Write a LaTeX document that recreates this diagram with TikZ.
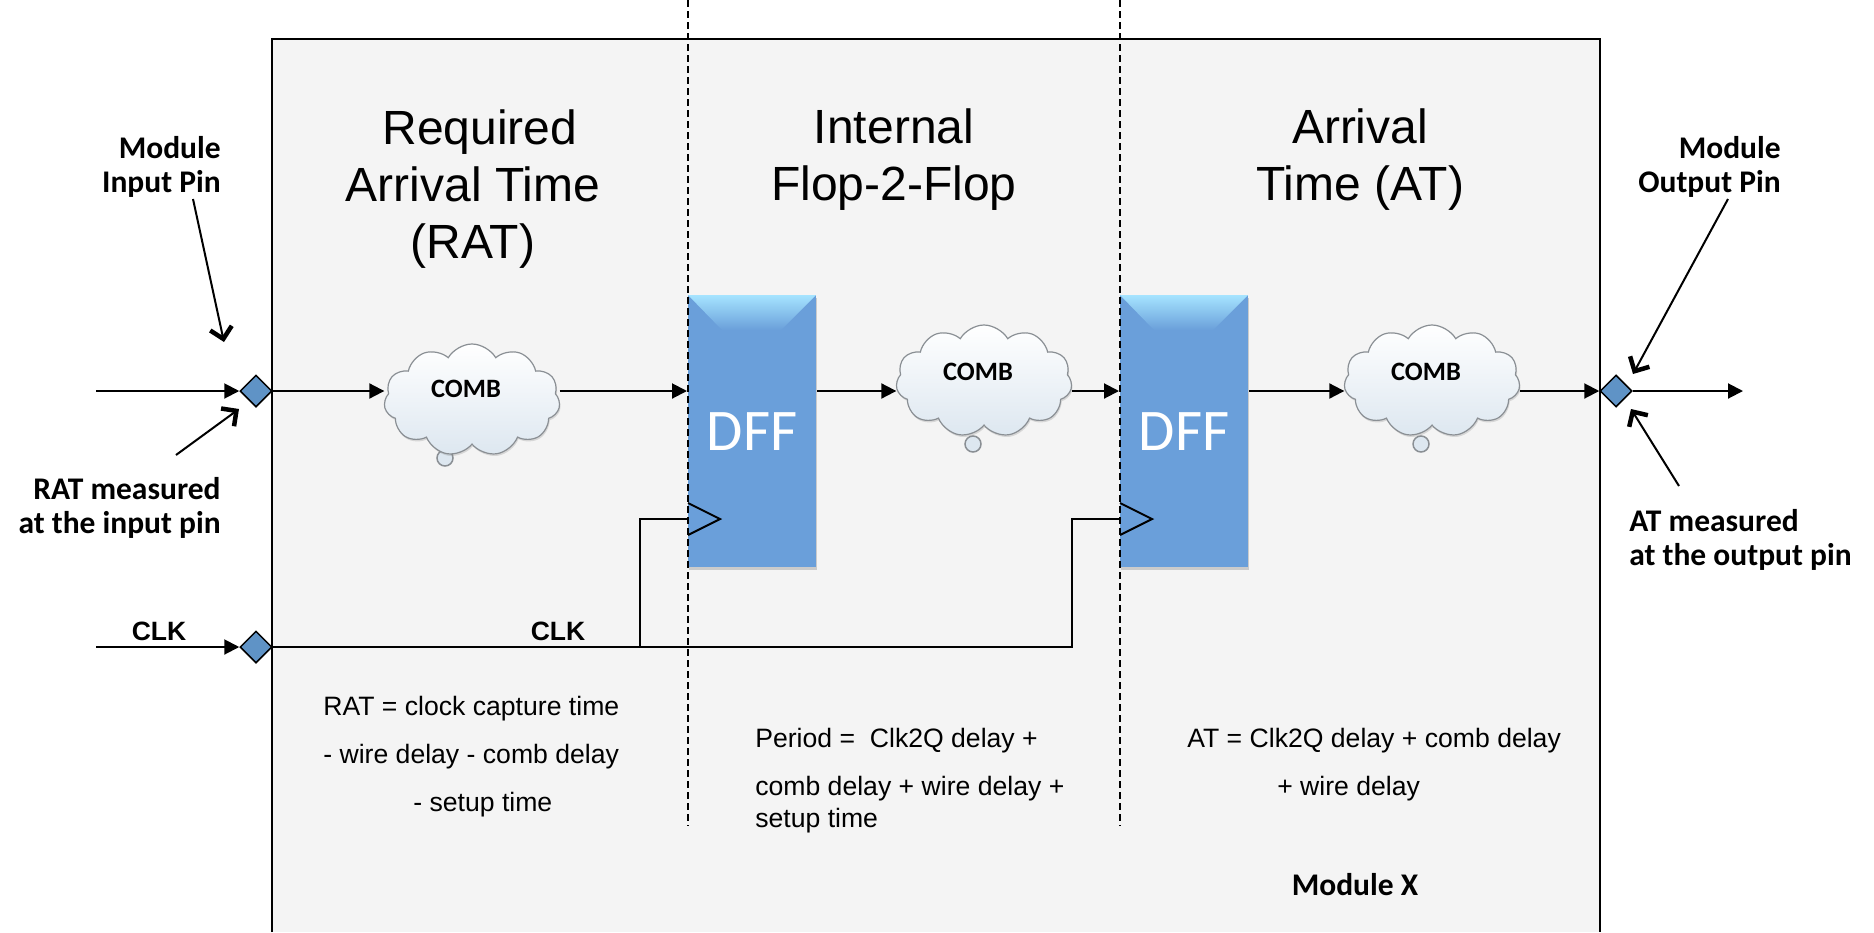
\documentclass[tikz,border=0pt]{standalone}
\usepackage{fontspec}
\setmainfont{Liberation Sans}
\newfontfamily\calibfont{Carlito}
\usepackage{tikz}
\usetikzlibrary{arrows.meta}
\usetikzlibrary{shapes.geometric,shapes.symbols}
\usetikzlibrary{shadows}
\definecolor{module gray}{HTML}{F4F4F4}
\definecolor{dff blue}{HTML}{6A9FDA}
\definecolor{pin blue}{HTML}{5F93C6}
\definecolor{cloud edge}{HTML}{8A8F94}
\definecolor{cloud tint}{HTML}{DDE7F0}
\tikzstyle{pin}=[diamond,draw,fill=pin blue,line width=1.5pt,minimum size=32pt,inner sep=0pt]
\tikzstyle{dff}=[rectangle,fill=dff blue,minimum width=128pt,minimum height=272pt,inner sep=0pt,text=white,font=\calibfont\fontsize{59}{64}\selectfont,drop shadow={shadow xshift=1pt,shadow yshift=-3pt,opacity=0.35}]
\tikzstyle{comb}=[cloud,cloud puffs=11,cloud puff arc=120,aspect=1.6,draw=cloud edge,line width=1.2pt,top color=white,bottom color=cloud tint,minimum width=176pt,minimum height=112pt,inner sep=0pt,drop shadow={shadow xshift=1pt,shadow yshift=-2pt,opacity=0.25}]
\tikzstyle{combtail}=[circle,draw=cloud edge,line width=1.5pt,fill=cloud tint,minimum size=16pt,inner sep=0pt]
\begin{document}
\begin{tikzpicture}[
  x=1pt,y=-1pt,
  line width=2pt,
  wire/.style={-{Triangle[length=15pt,width=15pt]}},
  pointer/.style={-{Straight Barb[length=11pt,width=22pt,line width=4.5pt]}},
  title/.style={font=\fontsize{48}{57}\selectfont,align=center},
  call/.style={font=\calibfont\bfseries\fontsize{31.5}{34}\selectfont},
  note/.style={font=\fontsize{26.6}{48}\selectfont,align=left,anchor=west},
  clk/.style={font=\bfseries\fontsize{26.5}{30}\selectfont},
  combtext/.style={font=\calibfont\bfseries\fontsize{26.5}{30}\selectfont,xshift=-6pt},
]
\useasboundingbox (0,0) rectangle (1874,932);
% module box runs off the bottom
\fill[module gray] (272,39) rectangle (1600,932);
\draw (272,932) -- (272,39) -- (1600,39) -- (1600,932);

\node[title] (ratTitle) at (473,189) {\hspace*{14pt}Required\\Arrival Time\\(RAT)};
\node[title] (f2fTitle) at (894,160) {Internal\\Flop-2-Flop};
\node[title] (atTitle) at (1360,160) {Arrival\\Time (AT)};

\node[pin] (inPin) at (256,391) {};
\node[pin] (clkPin) at (256,647) {};
\node[pin] (outPin) at (1616,391) {};

\node[dff] (dffA) at (752,431) {\raisebox{-19pt}[0pt][0pt]{DFF}};
\node[dff] (dffB) at (1184,431) {\raisebox{-19pt}[0pt][0pt]{DFF}};
% bevel on top of the flops
\shade[top color=blue!30!cyan!35,bottom color=dff blue] (688,295) -- (816,295) -- (781,330) -- (722,330) -- cycle;
\shade[top color=blue!30!cyan!35,bottom color=dff blue] (1120,295) -- (1248,295) -- (1213,330) -- (1154,330) -- cycle;

\node[combtail] (tailA) at (445,458) {};
\node[combtail] (tailB) at (973,444) {};
\node[combtail] (tailC) at (1421,444) {};
\node[comb,label={[combtext,yshift=11pt]center:COMB}] (combA) at (472,400) {};
\node[comb,label={[combtext,yshift=9pt]center:COMB}] (combB) at (984,381) {};
\node[comb,label={[combtext,yshift=9pt]center:COMB}] (combC) at (1432,381) {};

\coordinate (inStart) at (96,391);
\coordinate (clkStart) at (96,647);
\coordinate (outEnd) at (1743,391);
\coordinate (clkA) at (688,519);
\coordinate (clkB) at (1120,519);
\coordinate (tapA) at (640,647);
\coordinate (tapB) at (1072,647);

\draw[wire] (inStart) -- (inPin.west);
\draw[wire] (inPin.east) -- (inPin -| combA.west);
\draw[wire] (inPin -| combA.east) -- (inPin -| dffA.west);
\draw[wire] (inPin -| dffA.east) -- (inPin -| combB.west);
\draw[wire] (inPin -| combB.east) -- (inPin -| dffB.west);
\draw[wire] (inPin -| dffB.east) -- (inPin -| combC.west);
\draw[wire] (inPin -| combC.east) -- (outPin.west);
\draw[wire] (outPin.east) -- (outEnd);

\draw[wire] (clkStart) -- (clkPin.west);
\draw (clkPin.east) -- (tapB) -- (tapB |- clkB) -- (clkB);
\draw (tapA) -- (tapA |- clkA) -- (clkA);
\draw (clkA) ++(0,-16) -- ++(32,16) -- ++(-32,16);
\draw (clkB) ++(0,-16) -- ++(32,16) -- ++(-32,16);

% domain borders
\coordinate (cutAtop) at (688,0);
\coordinate (cutAend) at (688,826);
\coordinate (cutBtop) at (1120,0);
\coordinate (cutBend) at (1120,826);
\draw[dash pattern=on 7pt off 4pt,line width=1.5pt] (cutAtop) -- (cutAend);
\draw[dash pattern=on 7pt off 4pt,line width=1.5pt] (cutBtop) -- (cutBend);

\node[call,align=right,anchor=east] (inLabel) at (225,167) {Module\\Input Pin};
\node[call,align=right,anchor=east] (outLabel) at (1785,167) {Module\\Output Pin};
\node[call,align=right,anchor=east] (ratLabel) at (225,508) {RAT measured\\at the input pin};
\node[call,align=left,anchor=west] (atLabel) at (1625,540) {AT measured\\at the output pin};

\coordinate (inFrom) at (193,199);
\coordinate (inTo) at (224,342);
\coordinate (outFrom) at (1728,199);
\coordinate (outTo) at (1633,374);
\coordinate (ratFrom) at (176,455);
\coordinate (ratTo) at (239,409);
\coordinate (atFrom) at (1679,486);
\coordinate (atTo) at (1631,409);
\draw[pointer] (inFrom) -- (inTo);
\draw[pointer] (outFrom) -- (outTo);
\draw[pointer] (ratFrom) -- (ratTo);
\draw[pointer] (atFrom) -- (atTo);

\node[clk] (clkOut) at (159,631) {CLK};
\node[clk] (clkIn) at (558,631) {CLK};

\node[note] (ratNote) at (319,757) {RAT = clock capture time\\- wire delay - comb delay\\\hspace{90pt}- setup time};
\node[note] (f2fNote) at (751,781) {Period =\ \ Clk2Q delay +\\comb delay + wire delay +\\[-16pt]setup time};
\node[note] (atNote) at (1183,765) {AT = Clk2Q delay + comb delay\\\hspace{90pt}+ wire delay};
\node[call] (moduleX) at (1355,885) {Module X};
\end{tikzpicture}
\end{document}
